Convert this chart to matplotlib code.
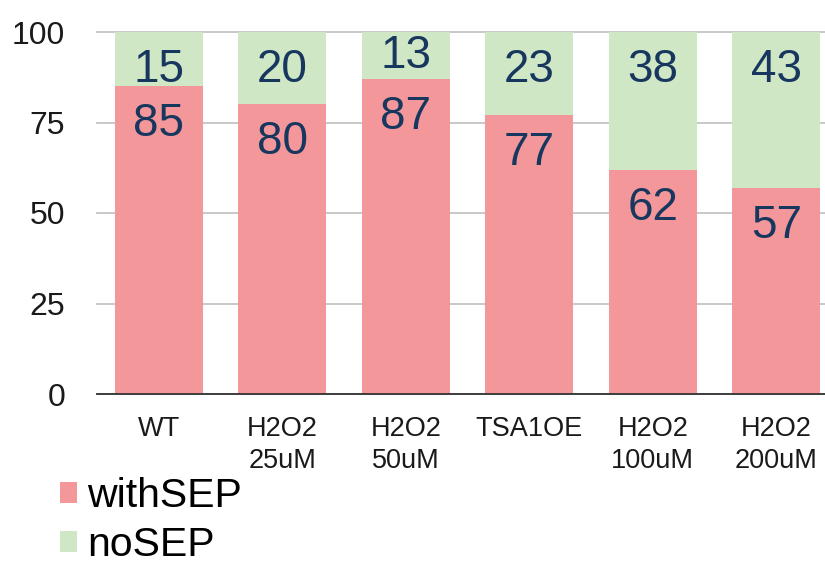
import matplotlib.pyplot as plt
from matplotlib.patches import Patch

plt.rcParams['font.family'] = ['Liberation Sans', 'DejaVu Sans']

# categories and values (percent)
categories = ['WT', 'H2O2\n25uM', 'H2O2\n50uM', 'TSA1OE', 'H2O2\n100uM', 'H2O2\n200uM']
with_sep = [85, 80, 87, 77, 62, 57]
no_sep = [15, 20, 13, 23, 38, 43]

pink = '#F4979A'
green = '#D0E7C5'
label_color = '#17375E'

fig = plt.figure(figsize=(8.25, 5.63), dpi=100)
ax = fig.add_axes([97 / 825, 169 / 563, 741 / 825, 362 / 563])

x = range(len(categories))
ax.bar(x, with_sep, width=0.71, color=pink, zorder=2)
ax.bar(x, no_sep, width=0.71, bottom=with_sep, color=green, zorder=2)

ax.set_xlim(-0.5, 5.5)
ax.set_ylim(0, 100)
ax.set_yticks([0, 25, 50, 75, 100])
ax.set_xticks(list(x))
ax.set_xticklabels(categories, fontsize=19.5, linespacing=1.3, color='#1a1a1a')
ax.tick_params(axis='y', length=0, pad=23, labelsize=23, labelcolor='#1a1a1a')
ax.tick_params(axis='x', length=0, pad=16)

ax.grid(axis='y', color='#C4C4C4', linewidth=1.3, zorder=0)
for gl in ax.get_ygridlines():
    gl.set_clip_on(False)
for s in ['top', 'right', 'left']:
    ax.spines[s].set_visible(False)
ax.spines['bottom'].set_color('#333333')
ax.spines['bottom'].set_linewidth(1.3)
ax.spines['bottom'].set_zorder(3)

# data labels: placed near the top inside each segment
px_per_unit = 362 / 100
for i in x:
    bottoms = [0, with_sep[i]]
    vals = [with_sep[i], no_sep[i]]
    for b, v in zip(bottoms, vals):
        seg = v * px_per_unit
        off_px = 38 if seg >= 50 else seg / 2
        ax.annotate(str(v), xy=(i, b + v), xytext=(0, -off_px * 0.72), textcoords='offset points',
                    ha='center', va='center', fontsize=33, color=label_color, zorder=4)

handles = [Patch(facecolor=pink, edgecolor='none'), Patch(facecolor=green, edgecolor='none')]
fig.legend(handles, ['withSEP', 'noSEP'], loc='upper left', bbox_to_anchor=(60 / 825, 1 - 477 / 563),
           frameon=False, fontsize=29.5, handlelength=0.42, handleheight=0.42,
           handletextpad=0.25, labelspacing=0.27, borderpad=0, borderaxespad=0)

fig.savefig('out.png', dpi=100)
